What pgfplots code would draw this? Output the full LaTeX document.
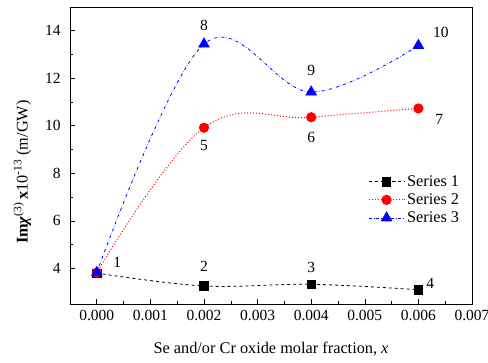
\documentclass[border=0pt]{standalone}
\usepackage{fontspec}
\setmainfont{Liberation Serif}
\usepackage{pgfplots}
\pgfplotsset{compat=1.18}
\newcommand{\fs}{\fontsize{15.5bp}{18bp}\selectfont}
\newcommand{\fl}{\fontsize{16.3bp}{19bp}\selectfont}
\begin{document}
\fs
\begin{tikzpicture}
\path[use as bounding box] (-70bp,-59bp) rectangle (418bp,304bp);
\begin{axis}[
  at={(0,0)}, anchor=south west,
  scale only axis, width=402bp, height=297bp,
  xmin=-0.0005, xmax=0.007, ymin=2.5, ymax=15,
  xtick={0,0.001,0.002,0.003,0.004,0.005,0.006,0.007},
  minor x tick num=1,
  ytick={4,6,8,10,12,14}, minor y tick num=1,
  tick align=inside, xtick pos=bottom, ytick pos=left,
  major tick length=5bp, minor tick length=3bp,
  scaled x ticks=false,
  /pgf/number format/assume math mode=true,
  tick label style={font=\fs},
  yticklabel style={xshift=-4bp},
  xticklabel style={yshift=-1bp, /pgf/number format/.cd, fixed, fixed zerofill, precision=3},
  label style={font=\fl},
  axis line style={line width=0.8bp},
  every tick/.style={line width=0.6bp, black},
  xlabel={Se and/or Cr oxide molar fraction, \textit{x}},
  ylabel={\textbf{Im\textit{χ}}\textsuperscript{(3)}\,\textbf{x}10\textsuperscript{-13} (m/GW)},
  xlabel style={at={(axis description cs:0.5,-0.152)}, anchor=center},
  ylabel style={at={(axis description cs:-0.119,0.444)}, anchor=center},
  legend style={at={(0.741,0.441)}, anchor=north west, draw=none, fill=none, font=\fl,
    row sep=1bp, inner sep=0pt},
  legend cell align=left,
  legend image code/.code={\draw[mark repeat=2,mark phase=2] plot coordinates {(0bp,0bp) (18bp,0bp) (36bp,0bp)};},
]
\addplot[black, dashed, line width=0.8bp, smooth, tension=0.6, mark=square*, mark size=4.2bp, mark options={solid}]
  coordinates {(0,3.80) (0.002,3.26) (0.004,3.33) (0.006,3.10)};
\addlegendentry{Series 1}
\addplot[red, dotted, line width=1bp, smooth, tension=0.65, mark=*, mark size=4.6bp, mark options={solid}]
  coordinates {(0,3.82) (0.002,9.92) (0.004,10.36) (0.006,10.73)};
\addlegendentry{Series 2}
\addplot[blue, dash dot, line width=0.8bp, smooth, tension=0.6, mark=triangle*, mark size=6bp, mark options={solid}]
  coordinates {(0,3.82) (0.002,13.44) (0.004,11.42) (0.006,13.38)};
\addlegendentry{Series 3}
\node[font=\fs] at (axis cs:0.00038,4.24) {1};
\node[font=\fs] at (axis cs:0.002,4.07) {2};
\node[font=\fs] at (axis cs:0.004,4.03) {3};
\node[font=\fs] at (axis cs:0.00622,3.36) {4};
\node[font=\fs] at (axis cs:0.002,9.15) {5};
\node[font=\fs] at (axis cs:0.004,9.52) {6};
\node[font=\fs] at (axis cs:0.00639,10.28) {7};
\node[font=\fs] at (axis cs:0.002,14.21) {8};
\node[font=\fs] at (axis cs:0.004,12.34) {9};
\node[font=\fs] at (axis cs:0.00642,13.92) {10};
\end{axis}
\end{tikzpicture}
\end{document}
